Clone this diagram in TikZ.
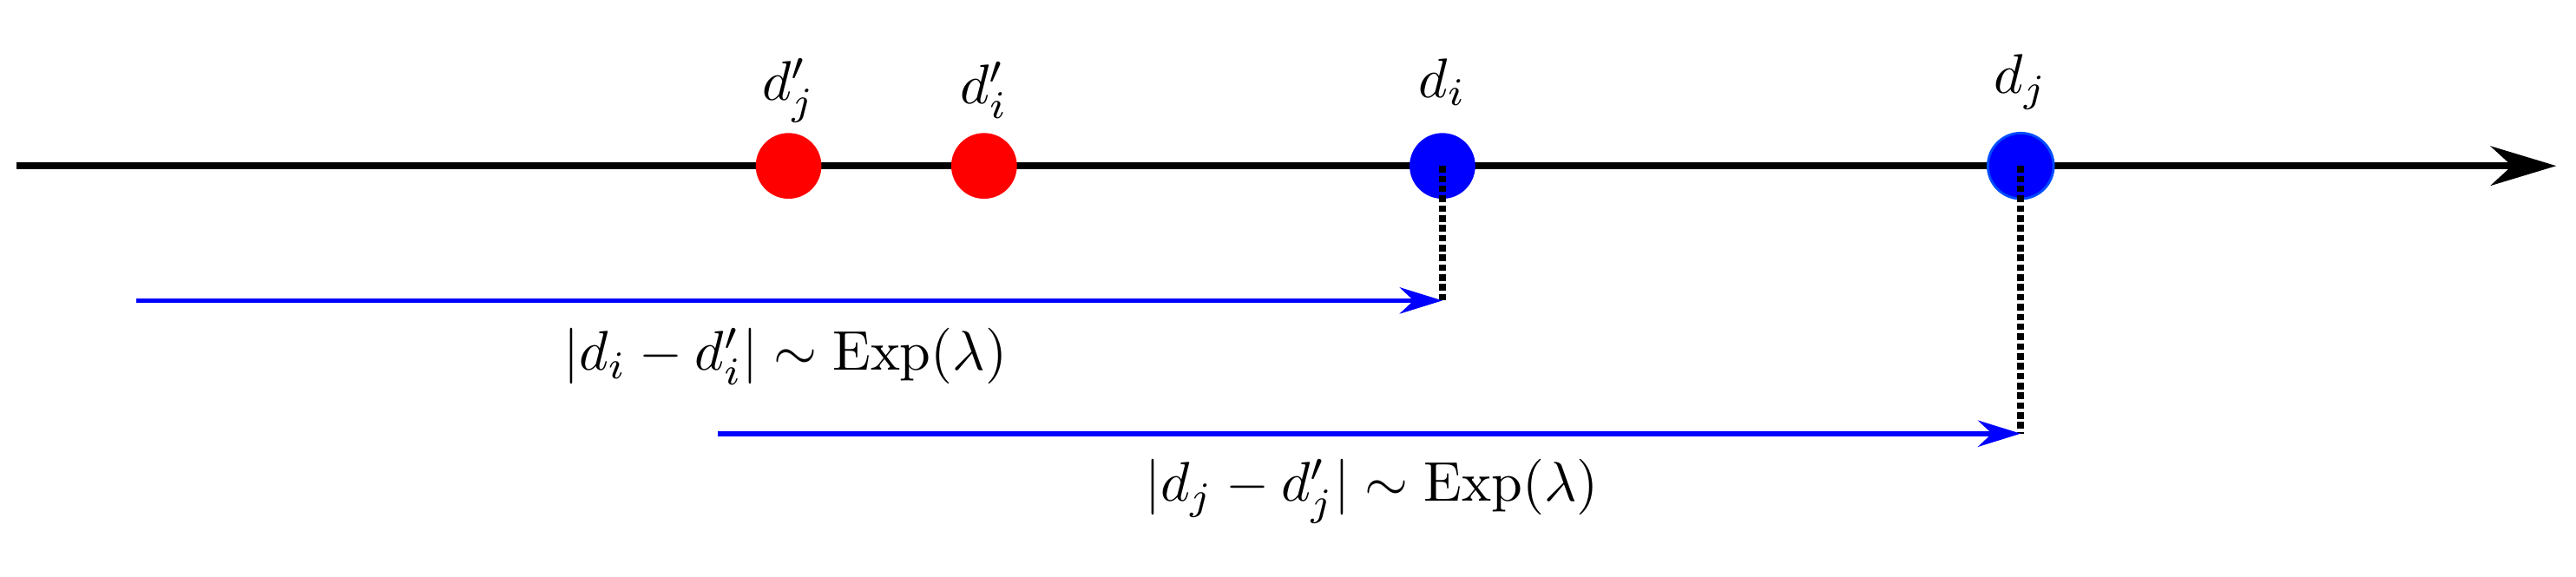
\documentclass[tikz,border=0pt]{standalone}
\usetikzlibrary{arrows.meta}
\begin{document}
\begin{tikzpicture}[x=1pt,y=-1pt,
  lbl/.style={scale=3.4},
  dot/.style={circle,minimum size=40pt,inner sep=0pt},
  blu/.style={draw=blue,line width=3pt,-{Stealth[length=26pt,width=16pt]}},
  dots/.style={draw=black,line width=4pt,dotted}]
\useasboundingbox (0,0) rectangle (1568,351);
\coordinate (a0) at (10,101);
\coordinate (a1) at (1556,101);
\draw[line width=4pt,-{Stealth[length=40pt,width=24pt]}] (a0) -- (a1);
\node[dot,fill=red] (rj) at (480,101) {};
\node[dot,fill=red] (ri) at (599,101) {};
\node[dot,fill=blue] (bi) at (878,101) {};
\node[dot,fill=blue,draw=blue!70!cyan,line width=1.5pt] (bj) at (1230,101) {};
\node[lbl] (tj) at (480,55) {$d'_j$};
\node[lbl] (ti) at (599,55) {$d'_i$};
\node[lbl] (ti2) at (878,50) {$d_i$};
\node[lbl] (tj2) at (1230,50) {$d_j$};
\coordinate (e1) at (878,183);
\coordinate (s1) at (83,183);
\coordinate (e2) at (1230,264);
\coordinate (s2) at (437,264);
\draw[dots] (bi.center) -- (e1);
\draw[dots] (bj.center) -- (e2);
\draw[blu] (s1) -- (e1);
\draw[blu] (s2) -- (e2);
\node[lbl] (l1) at (478,217) {$|d_i-d'_i|\sim\mathrm{Exp}(\lambda)$};
\node[lbl] (l2) at (835,299) {$|d_j-d'_j|\sim\mathrm{Exp}(\lambda)$};
\end{tikzpicture}
\end{document}
